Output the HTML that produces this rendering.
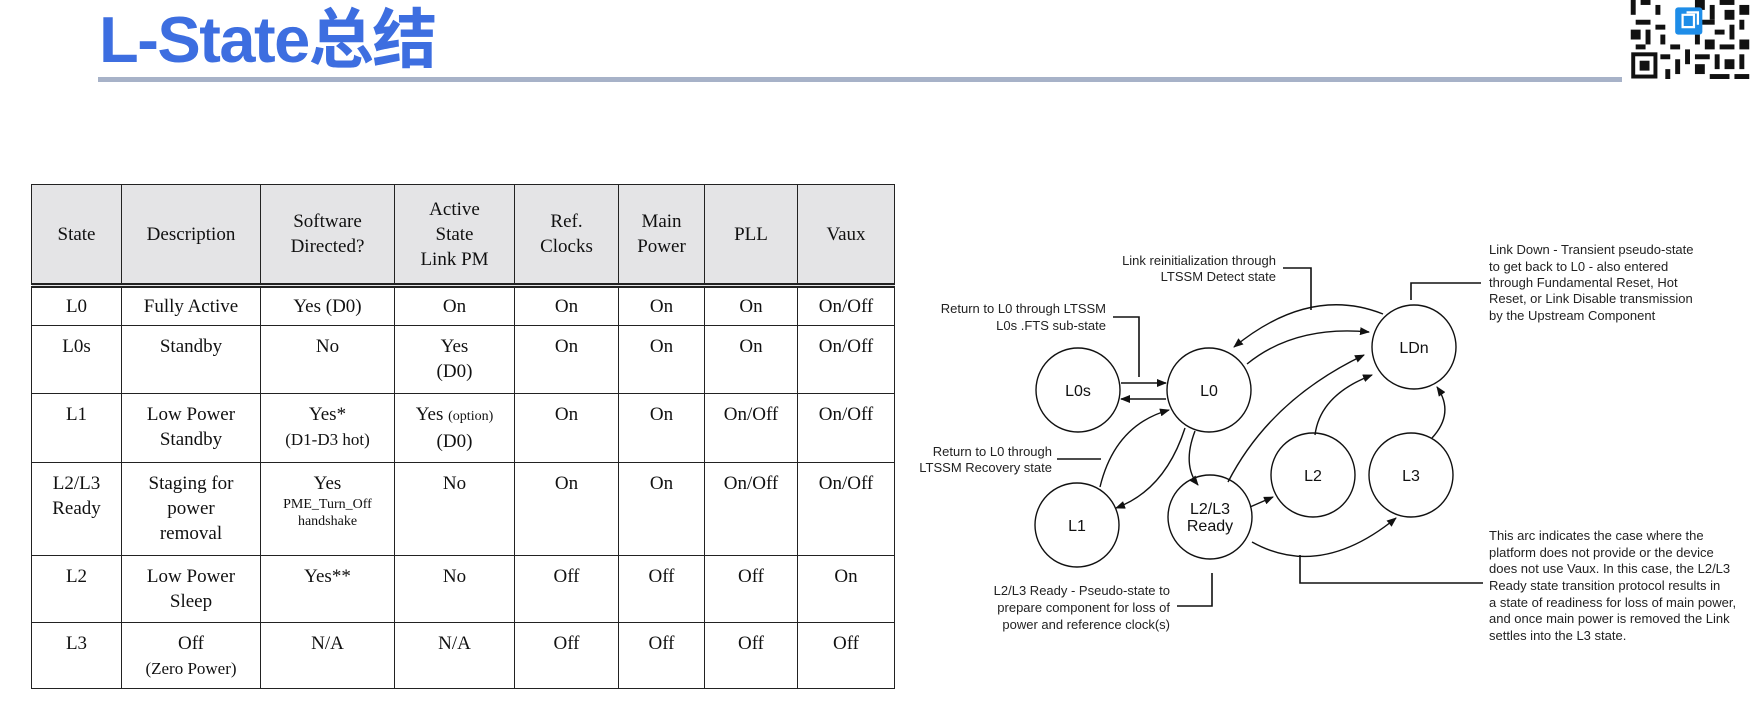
<!DOCTYPE html>
<html><head><meta charset="utf-8"><style>
html,body{margin:0;padding:0;background:#fff;}
body{width:1751px;height:705px;position:relative;overflow:hidden;}
.title{position:absolute;left:99px;top:-13px;font:bold 65px "Liberation Sans","Noto Sans CJK SC",sans-serif;color:#3d6ee0;letter-spacing:-1.5px;}
.rule{position:absolute;left:98px;top:77px;width:1524px;height:5px;background:#a7b2c8;}
table{position:absolute;left:31px;top:184px;border-collapse:collapse;table-layout:fixed;font-family:"Liberation Serif",serif;font-size:19px;color:#111;}
td,th{border:1.5px solid #222;text-align:center;vertical-align:top;padding:8px 0 0 0;line-height:25px;}
th{background:#e4e4e6;font-weight:normal;vertical-align:middle;padding:0;height:98px;border-bottom:5px double #222;}
small{font-size:14px;}
.sm{font-size:14px;line-height:17px;display:block;}
</style></head><body>
<div class="title">L-State总结</div>
<div class="rule"></div>
<svg style="position:absolute;left:1630px;top:0" width="120" height="79" viewBox="0 0 24 16">
<rect width="24" height="16" fill="#fff"/>
<g fill="#111">
<rect x="0" y="0" width="1" height="3"/><rect x="2" y="0" width="2" height="1"/><rect x="5" y="1" width="1" height="2"/><rect x="1" y="4" width="3" height="1"/><rect x="0" y="6" width="2" height="2"/><rect x="3" y="6" width="1" height="3"/><rect x="5" y="5" width="2" height="1"/><rect x="6" y="7" width="1" height="2"/><rect x="1" y="9" width="2" height="1"/>
<rect x="13" y="0" width="2" height="2"/><rect x="16" y="1" width="1" height="3"/><rect x="18" y="0" width="3" height="1"/><rect x="19" y="2" width="2" height="2"/><rect x="22" y="1" width="2" height="2"/><rect x="14" y="4" width="3" height="1"/><rect x="20" y="5" width="1" height="3"/><rect x="22" y="4" width="1" height="2"/><rect x="17" y="6" width="2" height="1"/><rect x="13" y="7" width="1" height="2"/>
<rect x="15" y="8" width="2" height="2"/><rect x="18" y="9" width="3" height="1"/><rect x="22" y="8" width="2" height="2"/><rect x="8" y="9" width="2" height="1"/><rect x="11" y="10" width="1" height="3"/><rect x="13" y="11" width="3" height="1"/><rect x="17" y="11" width="1" height="3"/><rect x="19" y="12" width="2" height="2"/><rect x="22" y="11" width="1" height="3"/><rect x="9" y="12" width="1" height="3"/><rect x="13" y="13" width="2" height="2"/><rect x="16" y="15" width="4" height="1"/><rect x="21" y="15" width="3" height="1"/><rect x="7" y="14" width="1" height="2"/><rect x="6" y="11" width="2" height="1"/>
<rect x="0.5" y="11" width="4.5" height="4.5" fill="none" stroke="#111" stroke-width="0.8"/><rect x="1.8" y="12.3" width="2" height="2"/>
</g>
<rect x="9" y="1.5" width="5.5" height="5.5" rx="0.6" fill="#1e8de8"/>
<path d="M10.5 3 h2.3 v2.5 h-2.3z M11.3 2.5 h2.3 v2.5" fill="none" stroke="#fff" stroke-width="0.45"/>
</svg>

<table>
<colgroup><col style="width:90px"><col style="width:139px"><col style="width:134px"><col style="width:120px"><col style="width:104px"><col style="width:86px"><col style="width:93px"><col style="width:97px"></colgroup>
<tr><th>State</th><th>Description</th><th>Software<br>Directed?</th><th>Active<br>State<br>Link PM</th><th>Ref.<br>Clocks</th><th>Main<br>Power</th><th>PLL</th><th>Vaux</th></tr>
<tr style="height:40px"><td style="padding-top:6px">L0</td><td style="padding-top:6px">Fully Active</td><td style="padding-top:6px">Yes (D0)</td><td style="padding-top:6px">On</td><td style="padding-top:6px">On</td><td style="padding-top:6px">On</td><td style="padding-top:6px">On</td><td style="padding-top:6px">On/Off</td></tr>
<tr style="height:68px"><td>L0s</td><td>Standby</td><td>No</td><td>Yes<br>(D0)</td><td>On</td><td>On</td><td>On</td><td>On/Off</td></tr>
<tr style="height:69px"><td>L1</td><td>Low Power<br>Standby</td><td>Yes*<br><span style="font-size:17px">(D1-D3 hot)</span></td><td>Yes <small>(option)</small><br>(D0)</td><td>On</td><td>On</td><td>On/Off</td><td>On/Off</td></tr>
<tr style="height:93px"><td>L2/L3<br>Ready</td><td>Staging for<br>power<br>removal</td><td>Yes<span class="sm">PME_Turn_Off<br>handshake</span></td><td>No</td><td>On</td><td>On</td><td>On/Off</td><td>On/Off</td></tr>
<tr style="height:67px"><td>L2</td><td>Low Power<br>Sleep</td><td>Yes**</td><td>No</td><td>Off</td><td>Off</td><td>Off</td><td>On</td></tr>
<tr style="height:66px"><td>L3</td><td>Off<br><span style="font-size:17px">(Zero Power)</span></td><td>N/A</td><td>N/A</td><td>Off</td><td>Off</td><td>Off</td><td>Off</td></tr>
</table>

<svg style="position:absolute;left:0;top:0" width="1751" height="705" font-family="Liberation Sans, sans-serif">
<defs><marker id="a" markerWidth="10" markerHeight="8" refX="9" refY="4" orient="auto" markerUnits="userSpaceOnUse"><path d="M0 0 L10 4 L0 8z" fill="#111"/></marker></defs>
<g fill="none" stroke="#111" stroke-width="1.4">
<circle cx="1078" cy="390" r="42"/><circle cx="1209" cy="390" r="42"/><circle cx="1414" cy="347" r="42"/>
<circle cx="1077" cy="525" r="42"/><circle cx="1210" cy="517" r="42"/><circle cx="1313" cy="475" r="42"/><circle cx="1411" cy="475" r="42"/>
</g>
<g fill="none" stroke="#111" stroke-width="1.4" marker-end="url(#a)">
<line x1="1121" y1="383" x2="1166" y2="383"/>
<line x1="1166" y1="399" x2="1121" y2="399"/>
<path d="M1100 487 Q1115 425 1169 410"/>
<path d="M1185 428 Q1165 490 1116 508"/>
<path d="M1195 431 Q1182 465 1198 485"/>
<path d="M1383 314 Q1310 285 1234 347"/>
<path d="M1247 364 Q1295 325 1369 332"/>
<path d="M1228 482 Q1270 400 1364 355"/>
<path d="M1315 435 Q1320 395 1372 375"/>
<path d="M1432 438 Q1455 413 1437 387"/>
<path d="M1250 507 L1273 497"/>
<path d="M1252 542 Q1320 580 1396 518"/>
</g>
<g fill="none" stroke="#111" stroke-width="1.6">
<polyline points="1283,268 1311,268 1311,310"/>
<polyline points="1113,317 1139,317 1139,377"/>
<polyline points="1057,459 1101,459"/>
<polyline points="1411,300 1411,283 1481,283"/>
<polyline points="1177,606 1212,606 1212,573"/>
<polyline points="1300,555 1300,583 1483,583"/>
</g>
<g font-size="16" text-anchor="middle" fill="#111">
<text x="1078" y="396">L0s</text><text x="1209" y="396">L0</text><text x="1414" y="353">LDn</text>
<text x="1077" y="531">L1</text><text x="1210" y="514">L2/L3</text><text x="1210" y="531">Ready</text>
<text x="1313" y="481">L2</text><text x="1411" y="481">L3</text>
</g>
<g font-size="13" fill="#222" text-anchor="end">
<text x="1276" y="265">Link reinitialization through</text><text x="1276" y="281">LTSSM Detect state</text>
<text x="1106" y="313">Return to L0 through LTSSM</text><text x="1106" y="330">L0s .FTS sub-state</text>
<text x="1052" y="456">Return to L0 through</text><text x="1052" y="472">LTSSM Recovery state</text>
<text x="1170" y="595">L2/L3 Ready - Pseudo-state to</text><text x="1170" y="612">prepare component for loss of</text><text x="1170" y="629">power and reference clock(s)</text>
</g>
<g font-size="13" fill="#222">
<text x="1489" y="254">Link Down - Transient pseudo-state</text><text x="1489" y="271">to get back to L0 - also entered</text><text x="1489" y="287">through Fundamental Reset, Hot</text><text x="1489" y="303">Reset, or Link Disable transmission</text><text x="1489" y="320">by the Upstream Component</text>
<text x="1489" y="540">This arc indicates the case where the</text><text x="1489" y="557">platform does not provide or the device</text><text x="1489" y="573">does not use Vaux. In this case, the L2/L3</text><text x="1489" y="590">Ready state transition protocol results in</text><text x="1489" y="607">a state of readiness for loss of main power,</text><text x="1489" y="623">and once main power is removed the Link</text><text x="1489" y="640">settles into the L3 state.</text>
</g>
</svg>
</body></html>
